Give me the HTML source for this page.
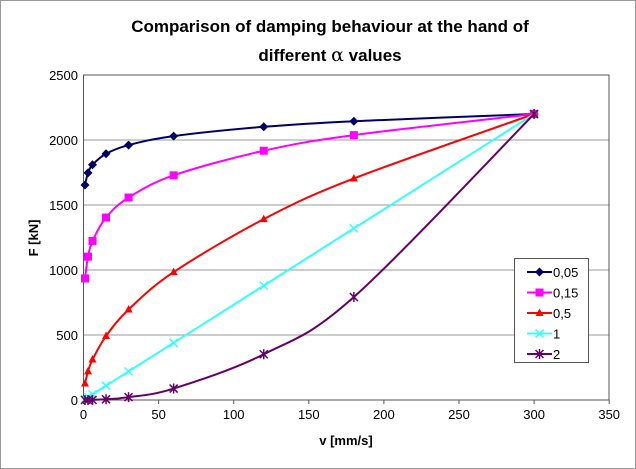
<!DOCTYPE html>
<html><head><style>
html,body{margin:0;padding:0;background:#fff;}
svg{display:block;font-family:"Liberation Sans",Arial,sans-serif;}
</style></head><body>
<svg id="s" width="636" height="469" viewBox="0 0 636 469" xmlns="http://www.w3.org/2000/svg">
<rect x="0.5" y="0.5" width="635" height="468" fill="#fff" stroke="#999"/>
<text x="330" y="32" text-anchor="middle" font-size="17" font-weight="bold">Comparison of damping behaviour at the hand of</text>
<text x="330" y="61" text-anchor="middle" font-size="17" font-weight="bold">different <tspan font-family="DejaVu Serif,serif" font-weight="normal" font-size="19">α</tspan> values</text>
<g id="grid"></g>
<rect x="83.5" y="75" width="525.5" height="325" fill="none" stroke="#555"/>
<g id="lab" font-size="13"></g>
<text x="346" y="445" text-anchor="middle" font-size="13" font-weight="bold">v [mm/s]</text>
<text x="38" y="238" text-anchor="middle" font-size="13" font-weight="bold" transform="rotate(-90 38 238)">F [kN]</text>
<g id="ser"></g>
<g id="leg"></g>
</svg>
<script>
var ns="http://www.w3.org/2000/svg";
function el(t,a,p){var e=document.createElementNS(ns,t);for(var k in a)e.setAttribute(k,a[k]);document.getElementById(p).appendChild(e);return e;}
function X(v){return 83.5+v*75.1/50;}function Y(f){return 400-f*0.13;}
for(var f=500;f<=2000;f+=500)el('line',{x1:83.5,x2:609,y1:Y(f),y2:Y(f),stroke:'#999'},'grid');
for(var f=0;f<=2500;f+=500){var t=el('text',{x:78,y:Y(f)+5,'text-anchor':'end'},'lab');t.textContent=f;}
for(var v=0;v<=350;v+=50){var t=el('text',{x:X(v),y:419,'text-anchor':'middle'},'lab');t.textContent=v;el('line',{x1:X(v),x2:X(v),y1:400,y2:404,stroke:'#555'},'grid');}
var vs=[1,3,6,15,30,60,120,180,300];
var S=[[0.05,'#000066','d'],[0.15,'#ff00ff','s'],[0.5,'#ff0000','t'],[1,'#33ffff','x'],[2,'#660066','a']];
function marker(x,y,c,m,p){
 if(m=='d')el('path',{d:'M'+x+' '+(y-4.5)+'L'+(x+4.5)+' '+y+'L'+x+' '+(y+4.5)+'L'+(x-4.5)+' '+y+'Z',fill:c},p);
 else if(m=='s')el('rect',{x:x-4,y:y-4,width:8,height:8,fill:c},p);
 else if(m=='t')el('path',{d:'M'+x+' '+(y-4.5)+'L'+(x+4)+' '+(y+3)+'L'+(x-4)+' '+(y+3)+'Z',fill:c},p);
 else if(m=='x')el('path',{d:'M'+(x-4)+' '+(y-4)+'L'+(x+4)+' '+(y+4)+'M'+(x+4)+' '+(y-4)+'L'+(x-4)+' '+(y+4),stroke:c,'stroke-width':1.5},p);
 else el('path',{d:'M'+(x-4)+' '+(y-4)+'L'+(x+4)+' '+(y+4)+'M'+(x+4)+' '+(y-4)+'L'+(x-4)+' '+(y+4)+'M'+x+' '+(y-5)+'L'+x+' '+(y+5),stroke:c,'stroke-width':1.5},p);
}
S.forEach(function(s,i){
 var pts=vs.map(function(v){return [X(v),Y(2200*Math.pow(v/300,s[0]))];});
 var d='M'+pts[0][0]+' '+pts[0][1];
 for(var k=0;k<pts.length-1;k++){var p0=pts[k-1]||pts[k],p1=pts[k],p2=pts[k+1],p3=pts[k+2]||p2;
  d+='C'+(p1[0]+(p2[0]-p0[0])/6)+' '+(p1[1]+(p2[1]-p0[1])/6)+' '+(p2[0]-(p3[0]-p1[0])/6)+' '+(p2[1]-(p3[1]-p1[1])/6)+' '+p2[0]+' '+p2[1];}
 el('path',{d:d,fill:'none',stroke:s[1],'stroke-width':2},'ser');
 pts.forEach(function(p){marker(p[0],p[1],s[1],s[2],'ser');});
 var ly=272+i*20.5;
 el('line',{x1:527,x2:552,y1:ly,y2:ly,stroke:s[1],'stroke-width':2},'leg');
 marker(539.5,ly,s[1],s[2],'leg');
 var t=el('text',{x:553,y:ly+5,'font-size':13},'leg');t.textContent=['0,05','0,15','0,5','1','2'][i];
});
var r=document.createElementNS(ns,'rect');
['x','y','width','height','fill','stroke'].forEach(function(a,j){r.setAttribute(a,[514.5,258.5,74,104,'#fff','#555'][j]);});
var lg=document.getElementById('leg');lg.insertBefore(r,lg.firstChild);
</script>
</body></html>
